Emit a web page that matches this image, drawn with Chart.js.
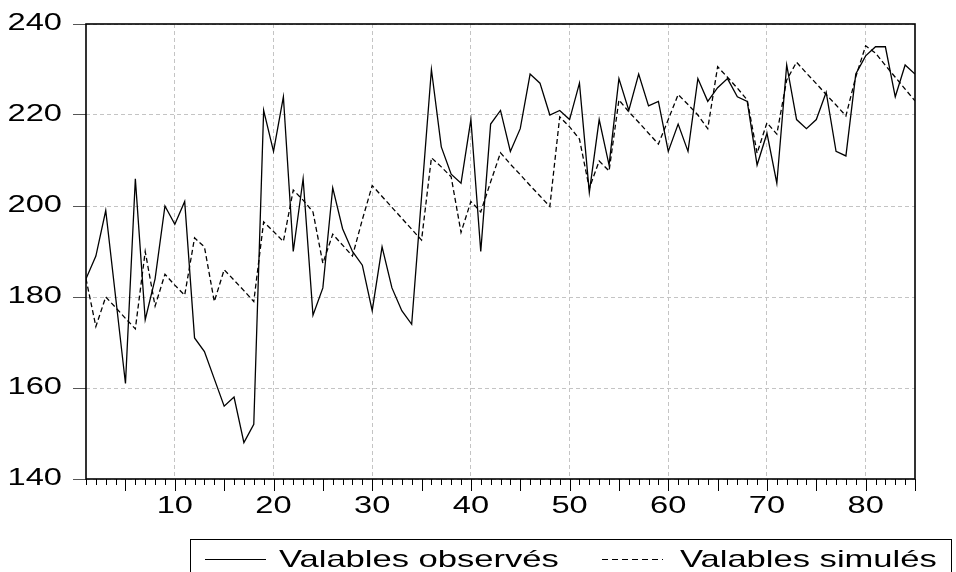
<!DOCTYPE html>
<html>
<head>
<meta charset="utf-8">
<script src="https://cdn.jsdelivr.net/npm/chart.js@4.4.1/dist/chart.umd.min.js"></script>
<style>
  html, body { margin: 0; padding: 0; background: #fff; }
</style>
</head>
<body>
<canvas id="chart" width="956" height="572"></canvas>
<script>
// observation number on the x axis
var periods = Array.from({ length: 85 }, function (_, i) { return i + 1; });

var observed = [
  184, 189, 199, 180, 161, 206, 175, 184, 200, 196,
  201, 171, 168, 162, 156, 158, 148, 152, 221, 212,
  224, 190, 206, 176, 182, 204, 195, 190, 187, 177,
  191, 182, 177, 174, 202, 230, 213, 207, 205, 219,
  190, 218, 221, 212, 217, 229, 227, 220, 221, 219,
  227, 203, 219, 209, 228, 221, 229, 222, 223, 212,
  218, 212, 228, 223, 226, 228, 224, 223, 209, 216,
  205, 231, 219, 217, 219, 225, 212, 211, 229, 233,
  235, 235, 224, 231, 229
];

var simulated = [
  184, 173.5, 180, 177.7, 175.3, 173, 190, 178, 185, 182.6,
  180.4, 193, 191, 179, 186, 183.7, 181.4, 179, 196.5, 194.4,
  192.2, 203.5, 201.3, 198.7, 187.4, 193.8, 191.4, 189, 197, 204.5,
  202.1, 199.7, 197.3, 194.9, 192.5, 210.6, 208.6, 206.4, 194.2, 201,
  198.7, 205.3, 211.7, 209.2, 206.9, 204.5, 202.2, 199.9, 219.6, 217.4,
  214.7, 203.9, 209.9, 207.7, 223.3, 220.7, 218.4, 216, 213.6, 219,
  224.5, 222.3, 220, 217, 230.6, 228.3, 225.9, 223.3, 211.6, 218.3,
  215.8, 227.7, 231.6, 229.2, 226.9, 224.5, 222.2, 219.8, 228.4, 235.2,
  233.6, 230.9, 228.3, 225.7, 223.1
];

var yTicks = [140, 160, 180, 200, 220, 240];
var xLabelEvery = 10;

var FONT = '24px "Liberation Sans", Arial, sans-serif';
// the original text is drawn wide
var TICK_STRETCH = 1.36;
var LEGEND_STRETCH = 1.44;

function wideText(ctx, text, x, y, align, stretch) {
  ctx.save();
  ctx.translate(x, y);
  ctx.scale(stretch, 1);
  ctx.textAlign = align;
  ctx.textBaseline = 'alphabetic';
  ctx.fillText(text, 0, 0);
  ctx.restore();
}

var frameAndLabels = {
  id: 'frameAndLabels',
  afterDraw: function (chart) {
    var ctx = chart.ctx;
    var a = chart.chartArea;
    var xs = chart.scales.x;
    var ys = chart.scales.y;

    ctx.save();
    // plot frame
    ctx.strokeStyle = '#000';
    ctx.lineWidth = 1.6;
    ctx.strokeRect(a.left, a.top, a.right - a.left, a.bottom - a.top);

    // x tick marks, long every 5
    ctx.lineWidth = 1;
    ctx.beginPath();
    periods.forEach(function (p) {
      var x = Math.round(xs.getPixelForValue(p)) + 0.5;
      var len = p % 5 === 0 ? 12 : 6;
      ctx.moveTo(x, a.bottom);
      ctx.lineTo(x, a.bottom + len);
    });
    ctx.stroke();

    ctx.fillStyle = '#000';
    ctx.font = FONT;
    yTicks.forEach(function (v) {
      wideText(ctx, String(v), 62, ys.getPixelForValue(v) + 5.5, 'right', TICK_STRETCH);
    });
    periods.forEach(function (p) {
      if (p % xLabelEvery === 0) {
        wideText(ctx, String(p), xs.getPixelForValue(p), 513, 'center', TICK_STRETCH);
      }
    });

    // legend box
    ctx.lineWidth = 1;
    ctx.strokeRect(190.5, 539.5, 761, 60);
    var items = chart.data.datasets;
    var spots = [{ x1: 205, x2: 266, tx: 279 }, { x1: 602, x2: 663, tx: 680 }];
    items.forEach(function (ds, i) {
      var s = spots[i];
      ctx.save();
      ctx.lineWidth = 1;
      ctx.strokeStyle = '#000';
      ctx.setLineDash(ds.borderDash ? [6, 4] : []);
      ctx.beginPath();
      ctx.moveTo(s.x1, 559.5);
      ctx.lineTo(s.x2, 559.5);
      ctx.stroke();
      ctx.restore();
      wideText(ctx, ds.label, s.tx, 567, 'left', LEGEND_STRETCH);
    });
    ctx.restore();
  }
};

new Chart(document.getElementById('chart'), {
  type: 'line',
  data: {
    labels: periods,
    datasets: [
      {
        label: 'Valables observés',
        data: observed,
        borderColor: '#000',
        borderWidth: 1.3,
        pointRadius: 0,
        tension: 0
      },
      {
        label: 'Valables simulés',
        data: simulated,
        borderColor: '#000',
        borderWidth: 1.3,
        borderDash: [5, 3],
        pointRadius: 0,
        tension: 0
      }
    ]
  },
  options: {
    responsive: false,
    animation: false,
    devicePixelRatio: 1,
    layout: { padding: { top: 24, right: 41, left: 0, bottom: 0 } },
    plugins: {
      legend: { display: false },
      tooltip: { enabled: false }
    },
    scales: {
      x: {
        type: 'linear',
        min: 1,
        max: 85,
        ticks: { display: false, stepSize: 1, autoSkip: false },
        grid: {
          drawTicks: false,
          color: function (c) {
            return c.tick && c.tick.value % xLabelEvery === 0 ? '#c4c4c4' : 'rgba(0,0,0,0)';
          }
        },
        border: { display: false, dash: [4, 3] },
        afterFit: function (scale) { scale.height = 93; }
      },
      y: {
        min: 140,
        max: 240,
        ticks: { display: false, stepSize: 20 },
        grid: {
          color: '#c4c4c4',
          tickLength: 13,
          tickColor: '#555'
        },
        border: { display: false, dash: [4, 3] },
        afterFit: function (scale) { scale.width = 86; }
      }
    }
  },
  plugins: [frameAndLabels]
});
</script>
</body>
</html>
